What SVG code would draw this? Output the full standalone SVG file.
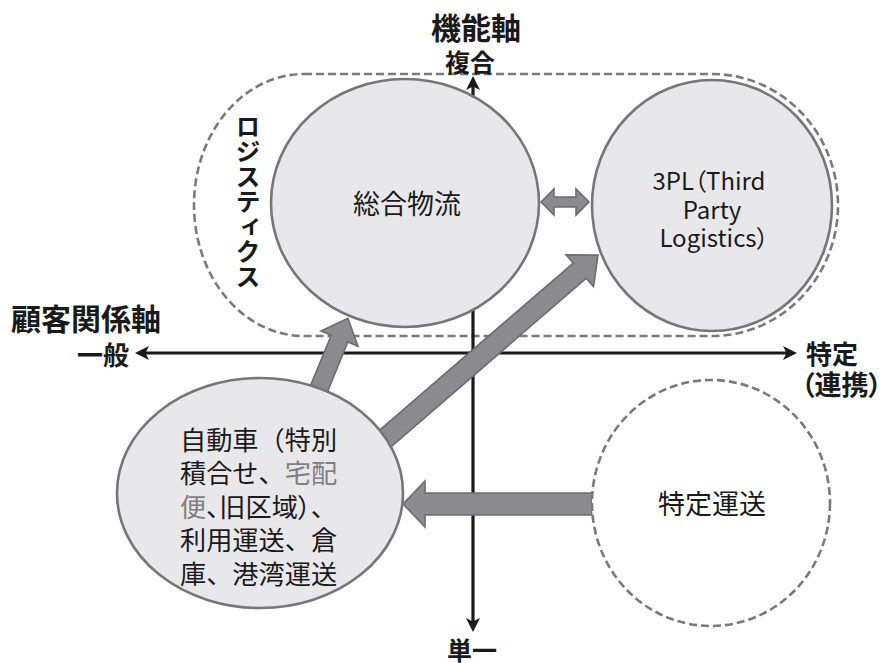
<svg xmlns="http://www.w3.org/2000/svg" width="888" height="663" viewBox="0 0 888 663">
<style>
.jp{font-family:"Noto Sans CJK JP","Noto Sans",sans-serif;fill:#1a1a1a}
.bold{font-weight:bold}
.palt{font-feature-settings:"palt" 1}
.axis{stroke:#1a1a1a;stroke-width:3.2;fill:none}
.node{fill:#e8e8ea;stroke:#767676;stroke-width:2.6}
.dash{fill:none;stroke:#7a7a7a;stroke-width:2.6;stroke-dasharray:8 4}
.garrow{fill:#8b8b8d;stroke:#6c6c6e;stroke-width:1.6;stroke-linejoin:miter}
.gray{fill:#7f7f7f}
</style>
<defs>
<marker id="ah" markerUnits="userSpaceOnUse" markerWidth="16" markerHeight="16" refX="6" refY="7" orient="auto-start-reverse">
<path d="M0,0 L14,7 L0,14 L3.5,7 Z" fill="#1a1a1a"/>
</marker>
</defs>
<rect width="888" height="663" fill="#ffffff"/>

<g id="logistics-group">
<path class="dash" d="M304,74 H712 A126,131 0 0 1 712,336 H304 A110,131 0 0 1 304,74 Z"/>
<text class="jp bold" font-size="25" x="248" y="114" style="writing-mode:vertical-rl">ロジスティクス</text>
</g>

<g id="axes">
<line class="axis" x1="473" y1="84" x2="473" y2="624" marker-start="url(#ah)" marker-end="url(#ah)"/>
<line class="axis" x1="143" y1="353" x2="789" y2="353" marker-start="url(#ah)" marker-end="url(#ah)"/>
<text class="jp bold" font-size="30" x="476" y="39" text-anchor="middle">機能軸</text>
<text class="jp bold" font-size="25" x="470" y="72" text-anchor="middle">複合</text>
<text class="jp bold" font-size="30" x="11" y="330">顧客関係軸</text>
<text class="jp bold" font-size="26" x="103" y="365" text-anchor="middle">一般</text>
<text class="jp bold" font-size="26" x="806" y="364">特定</text>
<text class="jp bold palt" font-size="27" x="801" y="395">（連携）</text>
<text class="jp bold" font-size="25" x="472" y="660" text-anchor="middle">単一</text>
</g>

<g id="connectors">
<polygon class="garrow" transform="translate(316,396) rotate(-67.7)" points="0,-9 62,-9 62,-20 84,0 62,20 62,9 0,9"/>
<polygon class="garrow" transform="translate(372,450) rotate(-40.8)" points="0,-10 274.5,-10 274.5,-21 298.5,0 274.5,21 274.5,10 0,10"/>
<polygon class="garrow" points="592,493 425,493 425,481 403,504 425,527 425,515 592,515"/>
<polygon class="garrow" points="541,202 554,189 554,197 576,197 576,189 589,202 576,215 576,207 554,207 554,215"/>
</g>

<g id="node-sogo">
<ellipse class="node" cx="405" cy="203" rx="134" ry="124"/>
<text class="jp" font-size="27" x="407" y="214" text-anchor="middle">総合物流</text>
</g>

<g id="node-3pl">
<ellipse class="node" cx="712" cy="205.5" rx="120" ry="125.5"/>
<text class="jp palt" font-size="24" text-anchor="middle"><tspan x="709" y="190">3PL（Third</tspan><tspan x="712" y="218.5">Party</tspan><tspan x="714" y="247">Logistics）</tspan></text>
</g>

<g id="node-jidosha">
<ellipse class="node" cx="260" cy="493" rx="143" ry="115"/>
<text class="jp" font-size="26.2">
<tspan x="180" y="449.5">自動車（特別</tspan>
<tspan x="180" y="483">積合せ、<tspan class="gray">宅配</tspan></tspan>
<tspan x="180" y="516.5" class="palt"><tspan class="gray">便</tspan>、旧区域）、</tspan>
<tspan x="180" y="550">利用運送、倉</tspan>
<tspan x="180" y="584">庫、港湾運送</tspan>
</text>
</g>

<g id="node-tokutei">
<ellipse class="dash" cx="711" cy="503" rx="119" ry="123" style="fill:#ffffff"/>
<text class="jp" font-size="27" x="712" y="514" text-anchor="middle">特定運送</text>
</g>
</svg>
